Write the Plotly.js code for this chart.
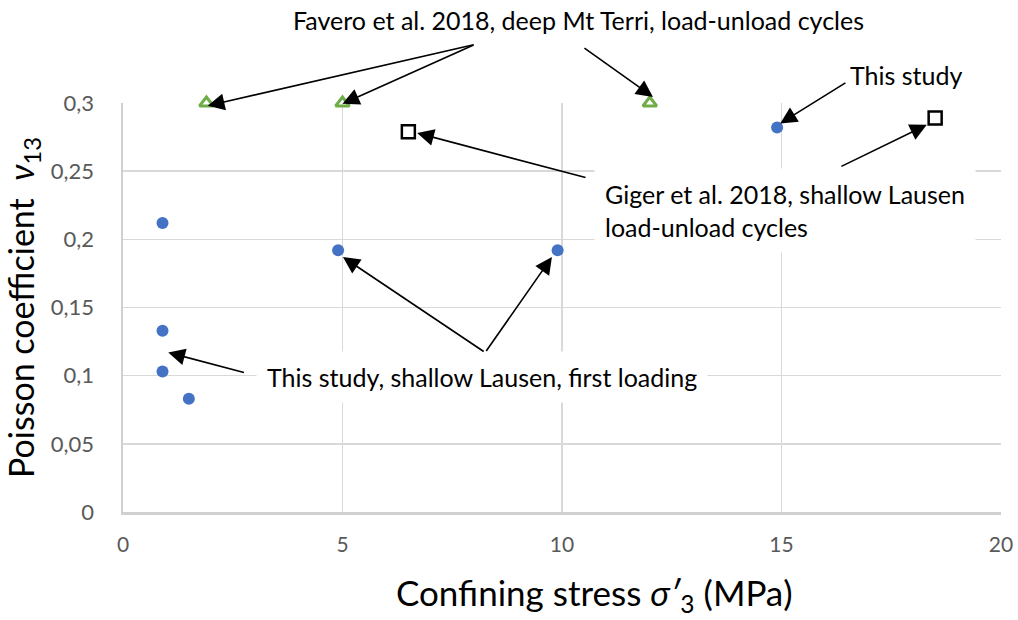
<!DOCTYPE html>
<html>
<head>
<meta charset="utf-8">
<script src="https://cdn.plot.ly/plotly-3.0.1.min.js"></script>
<style>html,body{margin:0;padding:0;background:#fff;}#chart{width:1018px;height:620px;}</style>
</head>
<body>
<div id="chart"></div>
<script>
// ---- data ----
const thisStudyX = [0.9, 0.9, 0.9, 1.5, 4.9, 9.9, 14.9];
const thisStudyY = [0.212, 0.133, 0.103, 0.083, 0.192, 0.192, 0.282];
const faveroX = [1.9, 5.0, 12.0];
const faveroY = [0.3, 0.3, 0.3];
const gigerX = [6.5, 18.5];
const gigerY = [0.279, 0.289];
const xTickVals = [0, 5, 10, 15, 20];
const yTickVals = [0, 0.05, 0.1, 0.15, 0.2, 0.25, 0.3];

const FONT = 'Lato, "Open Sans", sans-serif';

const traces = [
  {type:'scatter', mode:'markers', name:'This study', x:thisStudyX, y:thisStudyY,
   marker:{symbol:'circle', size:12, color:'#4472c4'}, cliponaxis:false},
  {type:'scatter', mode:'markers', name:'Favero et al. 2018', x:faveroX, y:faveroY,
   marker:{symbol:'triangle-up-open', size:12, color:'#70ad47', line:{width:3, color:'#70ad47'}}, cliponaxis:false},
  {type:'scatter', mode:'markers', name:'Giger et al. 2018', x:gigerX, y:gigerY,
   marker:{symbol:'square-open', size:13, color:'#000000', line:{width:2.5, color:'#000000'}}, cliponaxis:false}
];

const AH = {text:'', showarrow:true, arrowhead:2, arrowsize:2.1, arrowwidth:1.6,
            arrowcolor:'#000', standoff:0, startstandoff:0};
function arrow(hx, hy, tx, ty){
  return Object.assign({x:hx, y:hy, xref:'x', yref:'y', ax:tx, ay:ty, axref:'x', ayref:'y'}, AH);
}
// arrow whose head lies just above the plotting area: paper head, pixel tail offset
function arrowPaper(hx, hy, dx, dy){
  return Object.assign({x:hx, y:hy, xref:'paper', yref:'paper', ax:dx, ay:dy}, AH);
}
const lbl = {font:{family:FONT, size:25, color:'#000'}, showarrow:false};

const annotations = [
  Object.assign({}, lbl, {xref:'paper', yref:'paper', x:0.519, y:1.203, xanchor:'center', yanchor:'middle',
     text:'Favero et al. 2018, deep Mt Terri, load-unload cycles'}),
  Object.assign({}, lbl, {xref:'paper', yref:'paper', x:0.892, y:1.068, xanchor:'center', yanchor:'middle',
     text:'This study'}),
  Object.assign({}, lbl, {xref:'x', yref:'y', x:10.72, y:0.2215, xanchor:'left', yanchor:'middle', align:'left',
     bgcolor:'#fff', borderpad:10,
     text:'Giger et al. 2018, shallow Lausen<br>load-unload cycles'}),
  Object.assign({}, lbl, {xref:'x', yref:'y', x:8.18, y:0.099, xanchor:'center', yanchor:'middle',
     bgcolor:'#fff', borderpad:10,
     text:'This study, shallow Lausen, first loading'}),
  // x-axis title (placed as in the reference, right of plot centre)
  {xref:'paper', yref:'paper', x:0.537, y:-0.202, xanchor:'center', yanchor:'middle', showarrow:false,
   font:{family:FONT, size:35, color:'#000'},
   text:'Confining stress <i>σ\u2032</i><sub>3</sub> (MPa)'},
  arrow(1.93, 0.298, 8.02, 0.343),
  arrow(5.0, 0.2995, 8.02, 0.343),
  arrowPaper(0.6036, 1.0147, -70, -50),
  arrow(14.97, 0.285, 16.49, 0.3155),
  arrow(6.70, 0.278, 10.57, 0.245),
  arrow(18.31, 0.284, 16.33, 0.253),
  arrow(1.03, 0.117, 2.79, 0.102),
  arrow(5.01, 0.187, 8.25, 0.117),
  arrow(9.77, 0.187, 8.25, 0.117)
];

const layout = {
  width:1018, height:620,
  margin:{l:123, r:17, t:103, b:108},
  paper_bgcolor:'#fff', plot_bgcolor:'#fff',
  showlegend:false,
  separators:',.',
  font:{family:FONT, color:'#000'},
  xaxis:{range:[0,20], tickvals:xTickVals, showgrid:true, gridcolor:'#d9d9d9', gridwidth:1.5,
         showline:true, linecolor:'#d0d0d0', linewidth:2.5, zeroline:false, ticks:'',
         ticklabelstandoff:12, tickfont:{family:FONT, size:21, color:'#595959'},
         automargin:false},
  yaxis:{range:[0,0.3], tickvals:yTickVals, showgrid:true, gridcolor:'#d9d9d9', gridwidth:1.5,
         showline:true, linecolor:'#d0d0d0', linewidth:2.5, zeroline:false, ticks:'',
         ticklabelstandoff:22, tickfont:{family:FONT, size:22, color:'#595959'},
         title:{text:'Poisson coefficient  <i>ν</i><sub>13</sub>', font:{family:FONT, size:34, color:'#000'}, standoff:14},
         automargin:false},
  annotations:annotations
};

Plotly.newPlot('chart', traces, layout, {displayModeBar:false, staticPlot:true});
</script>
</body>
</html>
